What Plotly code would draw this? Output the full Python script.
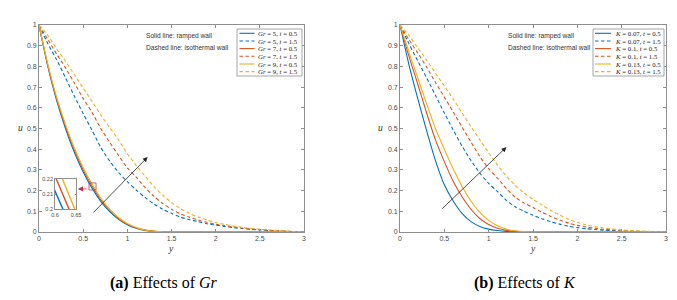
import plotly.graph_objects as go

W, H = 677, 300

# ---------------- data ----------------
Y_VALUES = [0.0, 0.1, 0.2, 0.3, 0.4, 0.5, 0.6, 0.7, 0.8, 0.9,
            1.0, 1.1, 1.2, 1.3, 1.4, 1.5, 1.6, 1.7, 1.8, 1.9,
            2.0, 2.1, 2.2, 2.3, 2.4, 2.5, 2.6, 2.7, 2.8, 2.9, 3.0]

# Panel (a): effects of Gr
GR5_T05 = [1.0, 0.80, 0.635, 0.50, 0.385, 0.29, 0.212, 0.148, 0.098, 0.061,
           0.035, 0.018, 0.008, 0.003, 0.001, 0.0, 0.0, 0.0, 0.0, 0.0,
           0.0, 0.0, 0.0, 0.0, 0.0, 0.0, 0.0, 0.0, 0.0, 0.0, 0.0]
GR5_T15 = [1.0, 0.91, 0.832, 0.745, 0.657, 0.572, 0.492, 0.408, 0.343, 0.288,
           0.243, 0.203, 0.167, 0.136, 0.110, 0.090, 0.072, 0.060, 0.050, 0.040,
           0.033, 0.027, 0.021, 0.017, 0.013, 0.010, 0.007, 0.005, 0.003, 0.001, 0.0]
GR7_T05 = [1.0, 0.805, 0.643, 0.51, 0.396, 0.301, 0.222, 0.156, 0.104, 0.065,
           0.038, 0.020, 0.009, 0.0035, 0.001, 0.0, 0.0, 0.0, 0.0, 0.0,
           0.0, 0.0, 0.0, 0.0, 0.0, 0.0, 0.0, 0.0, 0.0, 0.0, 0.0]
GR7_T15 = [1.0, 0.93, 0.86, 0.793, 0.72, 0.645, 0.578, 0.50, 0.433, 0.37,
           0.31, 0.265, 0.215, 0.173, 0.138, 0.110, 0.088, 0.072, 0.058, 0.047,
           0.038, 0.031, 0.025, 0.019, 0.015, 0.012, 0.009, 0.006, 0.004, 0.002, 0.0]
GR9_T05 = [1.0, 0.81, 0.65, 0.52, 0.406, 0.312, 0.232, 0.164, 0.110, 0.070,
           0.041, 0.022, 0.010, 0.004, 0.0012, 0.0, 0.0, 0.0, 0.0, 0.0,
           0.0, 0.0, 0.0, 0.0, 0.0, 0.0, 0.0, 0.0, 0.0, 0.0, 0.0]
GR9_T15 = [1.0, 0.95, 0.885, 0.825, 0.76, 0.695, 0.632, 0.565, 0.505, 0.445,
           0.378, 0.322, 0.27, 0.22, 0.178, 0.142, 0.113, 0.090, 0.072, 0.058,
           0.046, 0.037, 0.029, 0.022, 0.017, 0.013, 0.010, 0.007, 0.004, 0.002, 0.0]

# Panel (b): effects of K
K007_T05 = [1.0, 0.81, 0.645, 0.49, 0.345, 0.228, 0.15, 0.09, 0.05, 0.027,
            0.014, 0.007, 0.003, 0.001, 0.0, 0.0, 0.0, 0.0, 0.0, 0.0,
            0.0, 0.0, 0.0, 0.0, 0.0, 0.0, 0.0, 0.0, 0.0, 0.0, 0.0]
K007_T15 = [1.0, 0.91, 0.827, 0.745, 0.66, 0.575, 0.493, 0.415, 0.346, 0.285,
            0.235, 0.195, 0.153, 0.122, 0.10, 0.081, 0.064, 0.05, 0.038, 0.028,
            0.021, 0.016, 0.012, 0.009, 0.007, 0.005, 0.004, 0.003, 0.002, 0.001, 0.0]
K01_T05 = [1.0, 0.85, 0.715, 0.575, 0.445, 0.34, 0.245, 0.17, 0.11, 0.065,
           0.036, 0.018, 0.008, 0.003, 0.001, 0.0, 0.0, 0.0, 0.0, 0.0,
           0.0, 0.0, 0.0, 0.0, 0.0, 0.0, 0.0, 0.0, 0.0, 0.0, 0.0]
K01_T15 = [1.0, 0.93, 0.865, 0.797, 0.723, 0.652, 0.58, 0.507, 0.435, 0.365,
           0.306, 0.26, 0.21, 0.168, 0.14, 0.118, 0.096, 0.075, 0.058, 0.043,
           0.032, 0.024, 0.018, 0.013, 0.010, 0.007, 0.005, 0.003, 0.002, 0.001, 0.0]
K013_T05 = [1.0, 0.87, 0.745, 0.62, 0.50, 0.40, 0.305, 0.22, 0.15, 0.095,
            0.056, 0.03, 0.014, 0.006, 0.002, 0.0, 0.0, 0.0, 0.0, 0.0,
            0.0, 0.0, 0.0, 0.0, 0.0, 0.0, 0.0, 0.0, 0.0, 0.0, 0.0]
K013_T15 = [1.0, 0.95, 0.89, 0.83, 0.768, 0.705, 0.643, 0.575, 0.51, 0.445,
            0.383, 0.323, 0.27, 0.225, 0.188, 0.158, 0.13, 0.105, 0.082, 0.062,
            0.046, 0.035, 0.026, 0.019, 0.014, 0.010, 0.007, 0.005, 0.003, 0.001, 0.0]

GR_SERIES = [GR5_T05, GR5_T15, GR7_T05, GR7_T15, GR9_T05, GR9_T15]
K_SERIES = [K007_T05, K007_T15, K01_T05, K01_T15, K013_T05, K013_T15]

GR_LABELS = ["<i>Gr</i> = 5, <i>t</i> = 0.5", "<i>Gr</i> = 5, <i>t</i> = 1.5",
             "<i>Gr</i> = 7, <i>t</i> = 0.5", "<i>Gr</i> = 7, <i>t</i> = 1.5",
             "<i>Gr</i> = 9, <i>t</i> = 0.5", "<i>Gr</i> = 9, <i>t</i> = 1.5"]
K_LABELS = ["<i>K</i> = 0.07, <i>t</i> = 0.5", "<i>K</i> = 0.07, <i>t</i> = 1.5",
            "<i>K</i> = 0.1, <i>t</i> = 0.5", "<i>K</i> = 0.1, <i>t</i> = 1.5",
            "<i>K</i> = 0.13, <i>t</i> = 0.5", "<i>K</i> = 0.13, <i>t</i> = 1.5"]

X_TICKS = [0, 0.5, 1, 1.5, 2, 2.5, 3]
X_TICK_TEXT = ["0", "0.5", "1", "1.5", "2", "2.5", "3"]
Y_TICKS = [0, 0.1, 0.2, 0.3, 0.4, 0.5, 0.6, 0.7, 0.8, 0.9, 1]
Y_TICK_TEXT = ["0", "0.1", "0.2", "0.3", "0.4", "0.5", "0.6", "0.7", "0.8", "0.9", "1"]
INSET_X_TICKS = [0.6, 0.65]
INSET_Y_TICKS = [0.2, 0.21, 0.22]
INSET_X_RANGE = [0.6, 0.65]
INSET_Y_RANGE = [0.2, 0.22]

# ---------------- style ----------------
COLORS = ["#0072BD", "#0072BD", "#D95319", "#D95319", "#EDB120", "#EDB120"]
DASHES = ["solid", "3.5px,2.5px"] * 3
FRAME = "#8f8f8f"
TICKC = "#4a4a4a"
SANS = "Liberation Sans"
SERIF = "Liberation Serif"


def px(x):
    return x / W


def py(y):
    return 1 - y / H


fig = go.Figure()

for ser, col, dash, name in zip(GR_SERIES, COLORS, DASHES, GR_LABELS):
    fig.add_trace(go.Scatter(x=Y_VALUES, y=ser, mode="lines", name=name, showlegend=False,
                             line=dict(color=col, width=1.1, dash=dash, shape="spline", smoothing=0.7),
                             xaxis="x", yaxis="y"))
for ser, col, dash, name in zip(K_SERIES, COLORS, DASHES, K_LABELS):
    fig.add_trace(go.Scatter(x=Y_VALUES, y=ser, mode="lines", name=name, showlegend=False,
                             line=dict(color=col, width=1.1, dash=dash, shape="spline", smoothing=0.7),
                             xaxis="x2", yaxis="y2"))
# inset: ramped-wall curves of panel (a)
for ser, col in zip(GR_SERIES[0::2], COLORS[0::2]):
    fig.add_trace(go.Scatter(x=Y_VALUES, y=ser, mode="lines", showlegend=False,
                             line=dict(color=col, width=1.4),
                             xaxis="x3", yaxis="y3"))

axis_common = dict(showline=True, linecolor=FRAME, linewidth=0.8, mirror="ticks",
                   ticks="inside", ticklen=3, tickwidth=0.7, tickcolor=FRAME,
                   showgrid=False, zeroline=False, automargin=False,
                   tickfont=dict(family=SANS, size=7, color=TICKC))
inset_common = {**axis_common, "ticklen": 1.5,
                "tickfont": dict(family=SANS, size=5.5, color=TICKC)}

ydom = [py(232), py(25)]
fig.update_layout(
    template="none",
    width=W, height=H, margin=dict(l=0, r=0, t=0, b=0, pad=0, autoexpand=False),
    paper_bgcolor="white", plot_bgcolor="white", showlegend=False,
    xaxis=dict(domain=[px(39), px(304)], range=[0, 3], anchor="y",
               tickvals=X_TICKS, ticktext=X_TICK_TEXT, **axis_common),
    yaxis=dict(domain=ydom, range=[0, 1], anchor="x",
               tickvals=Y_TICKS, ticktext=Y_TICK_TEXT, **axis_common),
    xaxis2=dict(domain=[px(400), px(666)], range=[0, 3], anchor="y2",
                tickvals=X_TICKS, ticktext=X_TICK_TEXT, **axis_common),
    yaxis2=dict(domain=ydom, range=[0, 1], anchor="x2",
                tickvals=Y_TICKS, ticktext=Y_TICK_TEXT, **axis_common),
    xaxis3=dict(domain=[px(55), px(76)], range=INSET_X_RANGE, anchor="y3",
                tickvals=INSET_X_TICKS, ticktext=["0.6", "0.65"], **inset_common),
    yaxis3=dict(domain=[py(209), py(179)], range=INSET_Y_RANGE, anchor="x3",
                tickvals=INSET_Y_TICKS, ticktext=["0.2", "0.21", "0.22"], **inset_common),
)

annotations = []
shapes = []


def label(x, y, text, font, xanchor="center"):
    return dict(xref="paper", yref="paper", x=px(x), y=py(y), text=text, showarrow=False,
                xanchor=xanchor, yanchor="middle", font=font)


# axis titles
for xc in (171, 533):
    annotations.append(label(xc, 249, "<i>y</i>", dict(family=SERIF, size=9.5, color="#333")))
for xc in (20, 381):
    annotations.append(label(xc, 128, "<i>u</i>", dict(family=SERIF, size=9.5, color="#333")))

# in-plot notes
for xl in (144, 506):
    annotations.append(label(xl, 36, "Solid line: ramped wall",
                             dict(family=SANS, size=6.6, color="#333"), "left"))
    annotations.append(label(xl, 47, "Dashed line: isothermal wall",
                             dict(family=SANS, size=6.6, color="#333"), "left"))

# custom legends
ROWS = [33.3, 41.0, 48.6, 56.3, 64.0, 71.6]
for (bx0, bx1, lx0, lx1, tx, labels) in ((237, 302, 239.5, 254.5, 256, GR_LABELS),
                                           (593, 664, 595, 611, 613, K_LABELS)):
    shapes.append(dict(type="rect", xref="paper", yref="paper", x0=px(bx0), x1=px(bx1),
                       y0=py(76), y1=py(29), line=dict(color=FRAME, width=0.8),
                       fillcolor="white", layer="above"))
    for ry, lab, col, dash in zip(ROWS, labels, COLORS, DASHES):
        shapes.append(dict(type="line", xref="paper", yref="paper", x0=px(lx0), x1=px(lx1),
                           y0=py(ry), y1=py(ry), line=dict(color=col, width=1.1, dash=dash)))
        annotations.append(label(tx, ry, lab, dict(family=SERIF, size=6.8, color="#222"), "left"))

# trend arrows
annotations.append(dict(xref="x", yref="y", axref="x", ayref="y", x=1.23, y=0.362, ax=0.6, ay=0.087,
                        text="", showarrow=True, arrowhead=2, arrowsize=1.2, arrowwidth=0.8,
                        arrowcolor="#222"))
annotations.append(dict(xref="x2", yref="y2", axref="x2", ayref="y2", x=1.2, y=0.41, ax=0.46, ay=0.106,
                        text="", showarrow=True, arrowhead=2, arrowsize=1.2, arrowwidth=0.8,
                        arrowcolor="#222"))

# zoom indicator and arrow to the inset
shapes.append(dict(type="rect", xref="x", yref="y", x0=0.566, x1=0.646, y0=0.203, y1=0.237,
                   line=dict(color="#b0405a", width=0.8)))
annotations.append(dict(xref="x", yref="y", axref="x", ayref="y", x=0.44, y=0.208, ax=0.555, ay=0.208,
                        text="", showarrow=True, arrowhead=2, arrowsize=1.3, arrowwidth=0.8,
                        arrowcolor="#c0304a"))

# captions
annotations.append(label(164, 283, "<b>(a)</b> Effects of <i>Gr</i>",
                         dict(family=SERIF, size=16, color="black")))
annotations.append(label(525, 283, "<b>(b)</b> Effects of <i>K</i>",
                         dict(family=SERIF, size=16, color="black")))

fig.update_layout(annotations=annotations, shapes=shapes)
fig.write_html("out.html", config={"displayModeBar": False},
               post_script="document.body.style.margin='0';document.body.style.padding='0';")
